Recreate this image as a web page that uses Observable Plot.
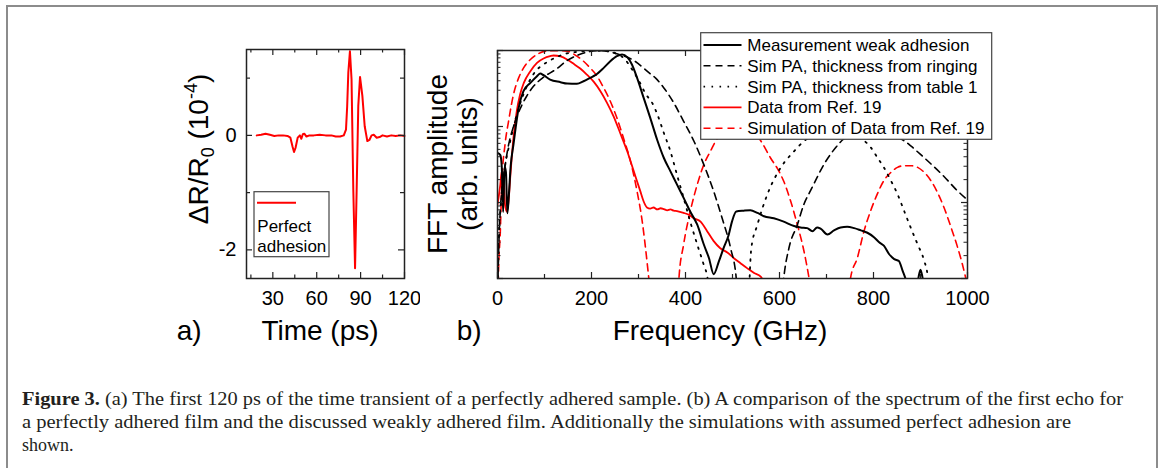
<!DOCTYPE html>
<html><head><meta charset="utf-8">
<script src="https://cdn.jsdelivr.net/npm/d3@7"></script>
<script src="https://cdn.jsdelivr.net/npm/@observablehq/plot@0.6"></script>
<style>
body{margin:0;background:#fff}
#fig{position:relative;width:1168px;height:468px;overflow:hidden;background:#fff}
#border{position:absolute;left:6px;top:5px;width:1148px;height:480px;border:2px solid #8c8c8c}
.abs{position:absolute}
</style></head><body>
<div id="fig"><div id="border"></div>
<div id="pa" class="abs" style="left:150px;top:30px;width:270px;height:330px"></div>
<div id="pb" class="abs" style="left:400px;top:20px;width:600px;height:340px"></div>
<div id="cap" class="abs" style="left:0;top:370px;width:1168px;height:98px"></div>
</div>
<script>
// ---------- Panel (a): time transient ----------
const timePs = [19,22,25,28,31,34,37,40,42,43.5,44.5,45.5,47,48.5,49.5,50.5,51.5,53,55,58,62,66,70,73,76,78.5,80,80.8,81.6,82.7,83.8,85,86.2,87.3,88.4,89.6,91.2,92.8,94.6,96,97.5,99,101,103,105,108,111,114,117,120];
const dRR = [0,0.01,0.03,0.01,-0.01,0,0,-0.01,-0.04,-0.2,-0.29,-0.22,-0.04,0,-0.06,0.02,0.03,-0.02,0,0,0.01,0,0,-0.02,-0.02,0,0.1,0.5,1.1,1.47,0.98,-0.94,-2.32,-0.94,0.51,1.02,0.69,0.16,-0.1,-0.08,0,0.01,-0.04,-0.03,0,-0.02,0,-0.01,0,-0.01];
const xTicksA = [30,60,90,120];
const xMinorA = [15,45,75,105];
const yTicksA = [0,-2];
const yMinorA = [1,-1];

// ---------- Panel (b): FFT spectra ----------
const fMeas = [0,6,9,12,15,18,21,24,28,34,45,55,70,84,91,98,112,134,148,169,183,197,208,226,240,254,265,276,286,297,311,325,340,354,368,382,396,410,425,439,450,460,471,481,492,499,508,524,538,553,567,588,609,631,645,659,670,680,688,702,716,730,744,759,773,787,801,812,822,833,844,854,862,869,876,890,896,900,904,910];
const aMeas = [0.045,0.042,0.03,0.0075,0.03,0.025,0.0072,0.012,0.03,0.058,0.176,0.29,0.375,0.459,0.498,0.473,0.415,0.383,0.367,0.364,0.394,0.436,0.473,0.591,0.723,0.842,0.886,0.817,0.654,0.436,0.238,0.13,0.066,0.0385,0.0257,0.0172,0.0115,0.0076,0.0051,0.0028,0.00185,0.00114,0.00168,0.00251,0.00377,0.00564,0.0076,0.0078,0.0079,0.0073,0.0066,0.0062,0.0056,0.0049,0.0047,0.0046,0.0042,0.0047,0.0045,0.0038,0.0043,0.0047,0.0048,0.0046,0.0043,0.004,0.0035,0.003,0.0027,0.0021,0.0018,0.0017,0.00126,0.00095,0.0006,0.0006,0.00105,0.0013,0.00105,0.0006];
const fRing = [0,3,6,10,16,23,34,48,62,77,98,126,148,169,190,212,233,254,290,325,336,354,375,396,418,439,460,478,496,508,515,600,609,620,638,652,666,680,695,709,723,737,765,800,840,865,880,900,925,950,975,1000];
const aRing = [0.0005,0.003,0.008,0.016,0.03,0.055,0.1,0.17,0.25,0.34,0.445,0.574,0.738,0.859,0.95,0.995,0.98,0.904,0.738,0.493,0.436,0.322,0.205,0.117,0.064,0.0315,0.014,0.0062,0.0025,0.001,0.0002,0.0002,0.001,0.0025,0.0051,0.0095,0.0143,0.0214,0.0321,0.0435,0.056,0.0686,0.078,0.08,0.075,0.065,0.055,0.043,0.031,0.022,0.015,0.0108];
const fTable = [0,3,6,10,16,27,41,55,77,105,126,144,170,200,230,255,270,285,300,315,330,340,354,368,382,396,410,425,439,447,455,530,540,553,574,602,631,652,680,720,760,780,794,808,822,837,851,865,879,894,908,915,922];
const aTable = [0.0005,0.004,0.0076,0.015,0.03,0.064,0.1435,0.263,0.493,0.70,0.817,0.904,0.96,0.99,0.98,0.9,0.78,0.58,0.41,0.27,0.2,0.145,0.082,0.047,0.023,0.0115,0.0056,0.0028,0.0015,0.001,0.0002,0.0002,0.0025,0.0051,0.0127,0.0284,0.0472,0.064,0.08,0.085,0.075,0.065,0.0532,0.0393,0.029,0.0194,0.0129,0.0078,0.0047,0.0028,0.0017,0.0011,0.0002];
const fRef = [0,6,9,13,16,20,23.5,27,34,41,48,56,70,84,98,112,119,134,148,162,176,190,205,219,233,247,261,276,290,304,311,318,325,332,340,347,354,361,368,375,382,396,407,418,432,446,460,474,489,503,517,531,546,560,570];
const aRef = [0.0094,0.0172,0.0257,0.021,0.0094,0.0076,0.0103,0.021,0.0707,0.159,0.263,0.375,0.535,0.688,0.785,0.842,0.859,0.834,0.761,0.667,0.579,0.483,0.386,0.291,0.205,0.136,0.0822,0.0472,0.0257,0.014,0.0103,0.0086,0.0083,0.0086,0.0081,0.0084,0.0082,0.0079,0.0081,0.0078,0.0077,0.0073,0.0069,0.0062,0.0056,0.0042,0.0031,0.0025,0.0022,0.00185,0.00159,0.00137,0.00118,0.00106,0.0008];
const fSimRef = [0,2,6,9,16,23.5,34,45,55.5,70,84,102,126,148,169,183,197,212,226,240,254,268,283,297,308,315,322,335,380,386,396,410,425,439,453,464,490,520,545,560,581,599,609,624,638,652,663,680,740,751,766,780,794,808,822,837,851,865,879,894,908,922,936,950,965,979,989,996,1000];
const aSimRef = [0.0002,0.00112,0.00417,0.0172,0.0578,0.117,0.263,0.436,0.591,0.761,0.886,0.98,0.995,0.98,0.842,0.723,0.591,0.459,0.322,0.215,0.13,0.0707,0.0348,0.014,0.0056,0.0025,0.001,0.0002,0.0002,0.001,0.0028,0.0076,0.0172,0.0315,0.0472,0.0639,0.09,0.1,0.085,0.065,0.0385,0.0257,0.019,0.0103,0.0051,0.0023,0.001,0.0002,0.0002,0.001,0.0019,0.00425,0.0078,0.0129,0.0194,0.0249,0.029,0.0305,0.0305,0.029,0.0249,0.0194,0.0136,0.0086,0.0047,0.00256,0.00155,0.00103,0.0008];
const xTicksB = [0,200,400,600,800,1000];
const xMinorB = [100,300,500,700,900];
const yDecadesB = [0.001,0.01,0.1,1];
const yMinorB = [0.001,0.01,0.1].flatMap(d => [2,3,4,5,6,7,8,9].map(k => k*d));

const legendB = [
  {label:"Measurement weak adhesion", color:"#000", dash:null, w:2},
  {label:"Sim PA, thickness from ringing", color:"#000", dash:"7,5", w:1.6},
  {label:"Sim PA, thickness from table 1", color:"#000", dash:"1.6,6.4", w:1.8},
  {label:"Data from Ref. 19", color:"#ff0000", dash:null, w:1.8},
  {label:"Simulation of Data from Ref. 19", color:"#ff0000", dash:"7,5", w:1.6}
];

const FONT = "'Liberation Sans', Arial, sans-serif";
const FRAME = "#222";

// ---------- build panel (a) ----------
const seriesA = timePs.map((t,i) => ({t, v: dRR[i]}));
const FHa = 229, FWa = 158;
const plotA = Plot.plot({
  width: 270, height: 330,
  marginLeft: 96, marginRight: 16, marginTop: 19, marginBottom: 82,
  x: {domain: [12, 120]},
  y: {domain: [-2.5, 1.5]},
  style: {fontFamily: FONT, background: "transparent", color: "#000"},
  marks: [
    Plot.line(seriesA, {x: "t", y: "v", stroke: "#ff0000", strokeWidth: 2}),
    Plot.frame({stroke: FRAME, strokeWidth: 1.5}),
    Plot.tickX(xTicksA, {x: d => d, insetTop: FHa - 6, stroke: FRAME, strokeWidth: 1.2}),
    Plot.tickX(xTicksA, {x: d => d, insetBottom: FHa - 6, stroke: FRAME, strokeWidth: 1.2}),
    Plot.tickX(xMinorA, {x: d => d, insetTop: FHa - 3.5, stroke: FRAME, strokeWidth: 1.2}),
    Plot.tickX(xMinorA, {x: d => d, insetBottom: FHa - 3.5, stroke: FRAME, strokeWidth: 1.2}),
    Plot.tickY(yTicksA, {y: d => d, insetRight: FWa - 6, stroke: FRAME, strokeWidth: 1.2}),
    Plot.tickY(yTicksA, {y: d => d, insetLeft: FWa - 6, stroke: FRAME, strokeWidth: 1.2}),
    Plot.tickY(yMinorA, {y: d => d, insetRight: FWa - 4, stroke: FRAME, strokeWidth: 1.2}),
    Plot.tickY(yMinorA, {y: d => d, insetLeft: FWa - 4, stroke: FRAME, strokeWidth: 1.2}),
    Plot.axisX({ticks: xTicksA, tickSize: 0, tickPadding: 12, fontSize: 20, label: null, tickFormat: d => String(d)}),
    Plot.axisY({ticks: yTicksA, tickSize: 0, tickPadding: 10, fontSize: 20, label: null, tickFormat: d => String(d)})
  ]
});
document.getElementById("pa").appendChild(plotA);
{
  const s = d3.select(plotA);
  const yl = s.append("text").attr("transform", "translate(58,119) rotate(-90)")
    .attr("text-anchor", "middle").attr("font-size", 28).attr("font-family", FONT).attr("fill", "#000");
  yl.append("tspan").text("ΔR/R");
  yl.append("tspan").attr("font-size", 18).attr("dy", 6).text("0");
  yl.append("tspan").attr("dy", -6).text(" (10");
  yl.append("tspan").attr("font-size", 18).attr("dy", -11).text("-4");
  yl.append("tspan").attr("dy", 11).text(")");
  s.append("text").attr("x", 170).attr("y", 310).attr("text-anchor", "middle")
    .attr("font-size", 28).attr("font-family", FONT).attr("fill", "#000").text("Time (ps)");
  s.append("text").attr("x", 26.7).attr("y", 310).attr("text-anchor", "start")
    .attr("font-size", 28).attr("font-family", FONT).attr("fill", "#000").text("a)");
  const lg = s.append("g").attr("text-anchor", "start");
  lg.append("rect").attr("x", 104).attr("y", 161.7).attr("width", 75).attr("height", 65)
    .attr("fill", "#fff").attr("stroke", "#444").attr("stroke-width", 1.2);
  lg.append("line").attr("x1", 107).attr("x2", 146).attr("y1", 172.7).attr("y2", 172.7)
    .attr("stroke", "#ff0000").attr("stroke-width", 2);
  lg.append("text").attr("x", 107.3).attr("y", 201.5).attr("text-anchor", "start").attr("font-size", 17).attr("font-family", FONT).text("Perfect");
  lg.append("text").attr("x", 107.3).attr("y", 221.5).attr("text-anchor", "start").attr("font-size", 17).attr("font-family", FONT).text("adhesion");
}

// ---------- build panel (b) ----------
const mk = (f, a) => f.map((x, i) => ({f: x, a: a[i]}));
const FHb = 228, FWb = 470;
const common = {x: "f", y: "a", clip: true, curve: "monotone-x"};
const plotB = Plot.plot({
  width: 600, height: 340,
  marginLeft: 97, marginRight: 33, marginTop: 30, marginBottom: 82,
  x: {domain: [0, 1000]},
  y: {type: "log", domain: [0.001, 1], axis: null},
  style: {fontFamily: FONT, background: "transparent", color: "#000"},
  marks: [
    Plot.line(mk(fSimRef, aSimRef), {...common, stroke: "#ff0000", strokeWidth: 1.6, strokeDasharray: "7,5"}),
    Plot.line(mk(fRef, aRef), {...common, stroke: "#ff0000", strokeWidth: 1.8}),
    Plot.line(mk(fTable, aTable), {...common, stroke: "#000", strokeWidth: 1.8, strokeDasharray: "1.6,6.4"}),
    Plot.line(mk(fRing, aRing), {...common, stroke: "#000", strokeWidth: 1.6, strokeDasharray: "7,5"}),
    Plot.line(mk(fMeas, aMeas), {...common, stroke: "#000", strokeWidth: 2}),
    Plot.frame({stroke: FRAME, strokeWidth: 1.5}),
    Plot.tickX(xTicksB, {x: d => d, insetTop: FHb - 6, stroke: FRAME, strokeWidth: 1.2}),
    Plot.tickX(xTicksB, {x: d => d, insetBottom: FHb - 6, stroke: FRAME, strokeWidth: 1.2}),
    Plot.tickX(xMinorB, {x: d => d, insetTop: FHb - 4, stroke: FRAME, strokeWidth: 1.2}),
    Plot.tickX(xMinorB, {x: d => d, insetBottom: FHb - 4, stroke: FRAME, strokeWidth: 1.2}),
    Plot.tickY(yDecadesB, {y: d => d, insetRight: FWb - 6, stroke: FRAME, strokeWidth: 1.2}),
    Plot.tickY(yDecadesB, {y: d => d, insetLeft: FWb - 6, stroke: FRAME, strokeWidth: 1.2}),
    Plot.tickY(yMinorB, {y: d => d, insetRight: FWb - 3.5, stroke: FRAME, strokeWidth: 1}),
    Plot.tickY(yMinorB, {y: d => d, insetLeft: FWb - 3.5, stroke: FRAME, strokeWidth: 1}),
    Plot.axisX({ticks: xTicksB, tickSize: 0, tickPadding: 12, fontSize: 20, label: null, tickFormat: d => String(d)})
  ]
});
document.getElementById("pb").appendChild(plotB);
{
  const s = d3.select(plotB);
  s.append("text").attr("transform", "translate(46.7,144) rotate(-90)")
    .attr("text-anchor", "middle").attr("font-size", 28).attr("font-family", FONT).text("FFT amplitude");
  s.append("text").attr("transform", "translate(77.4,144) rotate(-90)")
    .attr("text-anchor", "middle").attr("font-size", 28).attr("font-family", FONT).text("(arb. units)");
  s.append("text").attr("x", 320).attr("y", 320).attr("text-anchor", "middle")
    .attr("font-size", 28).attr("font-family", FONT).text("Frequency (GHz)");
  s.append("text").attr("x", 56.7).attr("y", 320).attr("text-anchor", "start")
    .attr("font-size", 28).attr("font-family", FONT).text("b)");
  const lg = s.append("g").attr("text-anchor", "start");
  lg.append("rect").attr("x", 300.7).attr("y", 12.7).attr("width", 291).attr("height", 106.6)
    .attr("fill", "#fff").attr("stroke", "#444").attr("stroke-width", 1.2);
  legendB.forEach((d, i) => {
    const y = 25 + i * 20.8;
    lg.append("line").attr("x1", 303.5).attr("x2", 341.5).attr("y1", y).attr("y2", y)
      .attr("stroke", d.color).attr("stroke-width", d.w).attr("stroke-dasharray", d.dash);
    lg.append("text").attr("x", 347.3).attr("y", y + 6).attr("text-anchor", "start")
      .attr("font-size", 17).attr("font-family", FONT).text(d.label);
  });
}

// ---------- caption ----------
{
  const SERIF = "'Liberation Serif', 'DejaVu Serif', serif";
  const cap = d3.select("#cap").append("svg").attr("width", 1168).attr("height", 98);
  const l1 = cap.append("text").attr("x", 22).attr("y", 35).attr("font-size", 18).attr("font-family", SERIF)
    .attr("fill", "#231f20").attr("textLength", 1101).attr("lengthAdjust", "spacingAndGlyphs");
  l1.append("tspan").attr("font-weight", "bold").text("Figure 3.");
  l1.append("tspan").text(" (a) The first 120 ps of the time transient of a perfectly adhered sample. (b) A comparison of the spectrum of the first echo for");
  cap.append("text").attr("x", 22).attr("y", 58).attr("font-size", 18).attr("font-family", SERIF)
    .attr("fill", "#231f20").attr("textLength", 1049).attr("lengthAdjust", "spacingAndGlyphs")
    .text("a perfectly adhered film and the discussed weakly adhered film. Additionally the simulations with assumed perfect adhesion are");
  cap.append("text").attr("x", 22).attr("y", 80.5).attr("font-size", 18).attr("font-family", SERIF)
    .attr("fill", "#231f20").text("shown.");
}
</script></body></html>
